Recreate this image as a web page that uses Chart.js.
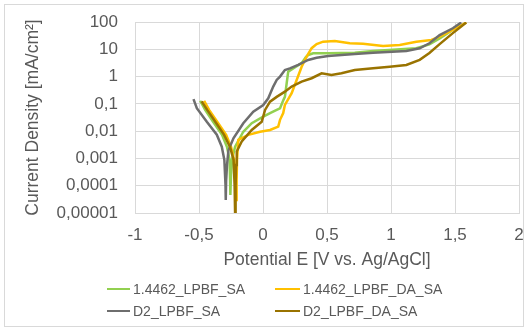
<!DOCTYPE html>
<html>
<head>
<meta charset="utf-8">
<script src="https://cdn.jsdelivr.net/npm/chart.js@4/dist/chart.umd.min.js"></script>
<style>
  html, body { margin: 0; padding: 0; background: #ffffff; }
  #wrap { position: relative; width: 525px; height: 329px; overflow: hidden; }
  #frame { position: absolute; left: 4px; top: 4px; width: 520px; height: 323px; box-sizing: border-box; border: 1px solid #d9d9d9; }
  canvas { position: absolute; left: 0; top: 0; }
  .lg { position: absolute; height: 20px; display: flex; align-items: center; font-family: "Liberation Sans", Arial, sans-serif; font-size: 14px; color: #595959; white-space: nowrap; }
  .sw { display: inline-block; height: 2.5px; margin-right: 3px; }
</style>
</head>
<body>
<div id="wrap">
  <div id="frame"></div>
  <canvas id="c" width="525" height="329"></canvas>
  <div id="legend"></div>
</div>
<script>
// ---- data ----
const seriesNames = ["1.4462_LPBF_SA", "1.4462_LPBF_DA_SA", "D2_LPBF_SA", "D2_LPBF_DA_SA"];
const seriesColors = ["#92D050", "#FFC000", "#6E6E6E", "#997300"];

const greenE = [-0.491,-0.452,-0.39,-0.32,-0.281,-0.261,-0.257,-0.255,-0.250,-0.242,-0.218,-0.154,-0.088,0.002,0.055,0.107,0.133,0.16,0.171,0.185,0.197,0.236,0.302,0.335,0.353,0.392,0.509,0.717,0.86,1.198,1.30,1.38,1.458,1.535];
const greenI = [0.13,0.06,0.022,0.0073,0.0026,0.00089,0.00016,0.000046,0.00025,0.00089,0.0027,0.0095,0.0195,0.034,0.046,0.06,0.069,0.14,0.18,0.57,1.52,2.0,3.1,5.2,6.2,7.1,7.1,7.5,8.7,10.9,15.2,25,43,85];

const yellowE = [-0.46,-0.421,-0.351,-0.288,-0.249,-0.226,-0.214,-0.21,-0.206,-0.203,-0.193,-0.115,-0.023,0.055,0.119,0.133,0.158,0.171,0.224,0.263,0.302,0.341,0.38,0.419,0.47,0.561,0.678,0.782,0.938,1.068,1.198,1.315,1.38,1.483,1.588];
const yellowI = [0.13,0.06,0.020,0.0073,0.0026,0.00089,0.00016,0.00003,0.00016,0.00089,0.0048,0.0073,0.0095,0.011,0.0146,0.026,0.046,0.091,0.245,0.75,2.3,5.4,11,15.5,19,20,16.6,15.9,13.2,14.4,19,21.9,29,51,96];

const grayE = [-0.543,-0.517,-0.439,-0.361,-0.322,-0.302,-0.293,-0.291,-0.288,-0.281,-0.270,-0.231,-0.154,-0.076,0.002,0.041,0.080,0.107,0.133,0.171,0.210,0.275,0.353,0.419,0.509,0.613,0.717,0.860,1.12,1.224,1.30,1.38,1.483,1.549];
const grayI = [0.15,0.069,0.022,0.0074,0.0027,0.00089,0.00011,0.00003,0.00015,0.00058,0.0020,0.0055,0.0195,0.052,0.091,0.16,0.43,0.75,1.0,1.74,2.0,2.66,4.06,4.9,5.7,6.2,6.7,7.5,8.7,10.9,16.6,33,59,96];

const brownE = [-0.479,-0.436,-0.366,-0.304,-0.257,-0.23,-0.222,-0.218,-0.214,-0.21,-0.205,-0.166,-0.088,-0.01,0.016,0.055,0.107,0.171,0.224,0.302,0.38,0.458,0.535,0.613,0.717,0.86,0.99,1.12,1.224,1.30,1.38,1.483,1.588];
const brownI = [0.123,0.06,0.020,0.0073,0.0026,0.00089,0.00011,0.00001,0.0001,0.00058,0.0018,0.0042,0.011,0.022,0.06,0.12,0.18,0.28,0.43,0.65,0.87,1.32,1.15,1.32,1.74,2.0,2.3,2.66,4.1,7.3,15.5,39,96];

const yTickValues = [0.00001, 0.0001, 0.001, 0.01, 0.1, 1, 10, 100];
const yTickLabels = ["0,00001", "0,0001", "0,001", "0,01", "0,1", "1", "10", "100"];
const xTickValues = [-1, -0.5, 0, 0.5, 1, 1.5, 2];
const xTickLabels = ["-1", "-0,5", "0", "0,5", "1", "1,5", "2"];

const xTitle = "Potential E [V vs. Ag/AgCl]";
const yTitle = "Current Density [mA/cm²]";

// ---- build ----
const seriesE = [greenE, yellowE, grayE, brownE];
const seriesI = [greenI, yellowI, grayI, brownI];
const drawOrder = [4, 3, 2, 1];

const datasets = seriesNames.map((name, k) => ({
  label: name,
  data: seriesE[k].map((e, i) => ({ x: e, y: seriesI[k][i] })),
  borderColor: seriesColors[k],
  backgroundColor: seriesColors[k],
  borderWidth: 2.5,
  pointRadius: 0,
  tension: 0,
  fill: false,
  order: drawOrder[k]
}));

const FONT = '"Liberation Sans", Arial, sans-serif';
const TXT = '#595959';
const GRID = '#d9d9d9';

new Chart(document.getElementById('c'), {
  type: 'line',
  data: { datasets },
  options: {
    responsive: false,
    animation: false,
    devicePixelRatio: 1,
    layout: { padding: { left: 5, right: 6, top: 22, bottom: 56 } },
    plugins: { legend: { display: false }, tooltip: { enabled: false } },
    scales: {
      x: {
        type: 'linear',
        min: -1, max: 2,
        afterBuildTicks: (s) => { s.ticks = xTickValues.map(v => ({ value: v })); },
        afterFit: (s) => { s.height = 60; },
        ticks: {
          padding: 0,
          color: TXT,
          font: { family: FONT, size: 17 },
          maxRotation: 0,
          callback: (v) => { const i = xTickValues.indexOf(v); return i >= 0 ? xTickLabels[i] : ''; }
        },
        grid: { color: GRID, lineWidth: 1, drawTicks: true, tickLength: 12, tickColor: 'rgba(0,0,0,0)' },
        border: { color: GRID },
        title: { display: true, text: xTitle, color: TXT, font: { family: FONT, size: 17.5 }, padding: { top: 0, bottom: 2.5 } }
      },
      y: {
        type: 'logarithmic',
        min: 0.00001, max: 100,
        afterBuildTicks: (s) => { s.ticks = yTickValues.map(v => ({ value: v, major: true })); },
        afterFit: (s) => { s.width = 130; },
        ticks: {
          padding: 0,
          color: TXT,
          font: { family: FONT, size: 17 },
          callback: (v) => { const i = yTickValues.findIndex(t => Math.abs(Math.log10(t) - Math.log10(v)) < 1e-6); return i >= 0 ? yTickLabels[i] : ''; }
        },
        grid: { color: GRID, lineWidth: 1, drawTicks: true, tickLength: 17, tickColor: 'rgba(0,0,0,0)' },
        border: { color: GRID },
        title: { display: true, text: yTitle, color: TXT, font: { family: FONT, size: 17.5 }, padding: { top: 17.5, bottom: 0 } }
      }
    }
  }
});

// ---- legend (two columns, like the reference) ----
const legendPos = [
  { x: 107, y: 289, w: 23 },
  { x: 275, y: 289, w: 25 },
  { x: 107, y: 311, w: 23 },
  { x: 275, y: 311, w: 25 }
];
const lg = document.getElementById('legend');
seriesNames.forEach((name, k) => {
  const p = legendPos[k];
  const d = document.createElement('div');
  d.className = 'lg';
  d.style.left = p.x + 'px';
  d.style.top = (p.y - 10) + 'px';
  const sw = document.createElement('span');
  sw.className = 'sw';
  sw.style.width = p.w + 'px';
  sw.style.background = seriesColors[k];
  const t = document.createElement('span');
  t.textContent = name;
  d.appendChild(sw);
  d.appendChild(t);
  lg.appendChild(d);
});
</script>
</body>
</html>
